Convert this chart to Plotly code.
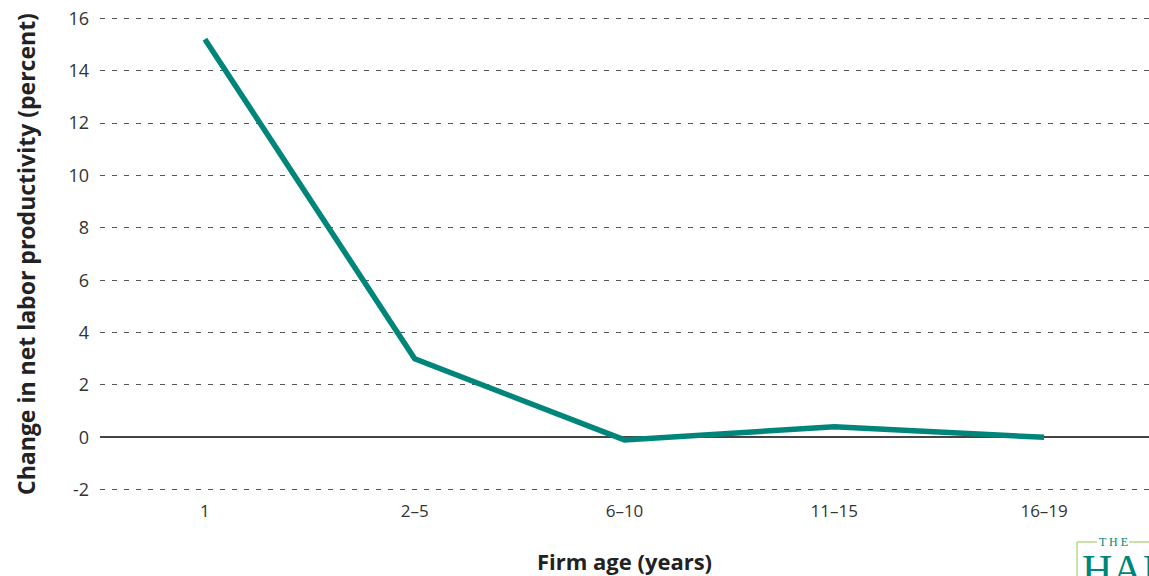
import plotly.graph_objects as go

# Firm age groups and the change in net labor productivity (percent)
age_groups = ["1", "2–5", "6–10", "11–15", "16–19"]
productivity_change = [15.2, 3.0, -0.1, 0.4, 0.0]
y_ticks = [-2, 0, 2, 4, 6, 8, 10, 12, 14, 16]
y_tick_text = ["-2", "0", "2", "4", "6", "8", "10", "12", "14", "16"]

TEAL = "#00857A"
FONT = "Open Sans"

W, H = 1149, 576
L, R, T, B = 100, 0, 17, 85
PAD = 0.05  # small headroom so the edge gridlines at -2 and 16 are drawn


def px_x(px):
    return (px - L) / (W - L - R)


def px_y(py):
    return (H - B - py) / (H - T - B)


fig = go.Figure()
fig.add_trace(go.Scatter(
    x=age_groups,
    y=productivity_change,
    mode="lines",
    line=dict(color=TEAL, width=5.5),
    hoverinfo="x+y",
    showlegend=False,
))

fig.update_layout(
    width=W,
    height=H,
    margin=dict(l=L, r=R, t=T, b=B),
    plot_bgcolor="white",
    paper_bgcolor="white",
    font=dict(family=FONT, color="#333333", size=17),
    xaxis=dict(
        type="category",
        range=[-0.5, 4.5],
        showgrid=False,
        showline=False,
        ticks="",
        ticklabelstandoff=8,
        tickfont=dict(size=17, color="#333333"),
        title=dict(text="<b>Firm age (years)</b>", font=dict(size=22, color="#222222"), standoff=40),
    ),
    yaxis=dict(
        range=[-2 - PAD, 16 + PAD],
        tickvals=y_ticks,
        ticktext=y_tick_text,
        showgrid=True,
        gridcolor="#555555",
        gridwidth=1,
        griddash="5px,7px",
        zeroline=True,
        zerolinecolor="#444444",
        zerolinewidth=1.5,
        showline=False,
        ticks="",
        ticklabelstandoff=10,
        tickfont=dict(size=18, color="#333333"),
        title=dict(text="<b>Change in net labor productivity (percent)</b>",
                   font=dict(size=23, color="#222222"), standoff=26),
    ),
)

# Hamilton Project mark in the lower right corner
fig.add_annotation(
    xref="paper", yref="paper", x=px_x(1113), y=px_y(542),
    text="T H E", showarrow=False, xanchor="center", yanchor="middle",
    font=dict(family="Liberation Serif", size=12, color=TEAL),
)
fig.add_annotation(
    xref="paper", yref="paper", x=px_x(1080), y=px_y(545),
    text="HAMILTON", showarrow=False, xanchor="left", yanchor="top",
    font=dict(family="Liberation Serif", size=42, color=TEAL),
)
for x0, x1 in [(1077, 1097), (1129, 1160)]:
    fig.add_shape(type="line", xref="paper", yref="paper",
                  x0=px_x(x0), x1=px_x(x1), y0=px_y(542), y1=px_y(542),
                  line=dict(color="#b9d98a", width=1.5))
fig.add_shape(type="line", xref="paper", yref="paper",
              x0=px_x(1077), x1=px_x(1077), y0=px_y(542), y1=px_y(580),
              line=dict(color="#b9d98a", width=1.5))

fig.write_html("out.html")
